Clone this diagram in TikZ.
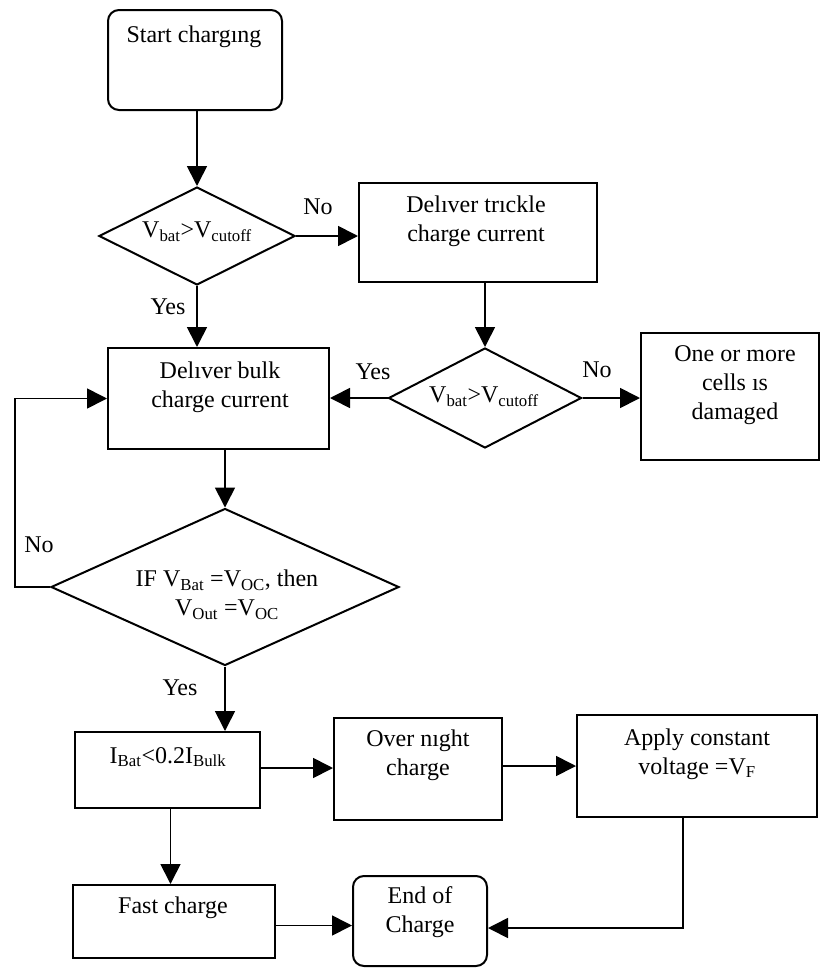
\documentclass[tikz,border=0pt]{standalone}
\usepackage{fontspec}
\setmainfont{Liberation Serif}
\usetikzlibrary{arrows.meta,shapes.geometric,calc}
\begin{document}
\begin{tikzpicture}[x=1pt,y=-1pt,
  every node/.style={font=\fontsize{24}{29}\selectfont},
  box/.style={draw, line width=2pt, rectangle, inner sep=0pt},
  rbox/.style={box, rounded corners=11pt},
  dia/.style={draw, line width=2pt, diamond, inner sep=0pt},
  txt/.style={align=center, inner sep=0pt},
  lbl/.style={inner sep=0pt},
  arr/.style={line width=1.7pt, -{Triangle[length=20pt,width=20pt]}}
]
\useasboundingbox (0,0) rectangle (821,969);

% boxes
\node[rbox, minimum width=174pt, minimum height=100pt] (start) at (195,60) {};
\node[box, minimum width=238pt, minimum height=99pt] (trickle) at (478,232.5) {};
\node[box, minimum width=221pt, minimum height=101pt] (bulk) at (218.5,398.5) {};
\node[box, minimum width=178pt, minimum height=127pt] (one) at (730,396.5) {};
\node[box, minimum width=185pt, minimum height=76pt] (ibat) at (167.5,770) {};
\node[box, minimum width=202pt, minimum height=73pt] (fast) at (174,921.5) {};
\node[box, minimum width=168pt, minimum height=102pt] (over) at (418,769) {};
\node[box, minimum width=240pt, minimum height=102pt] (apply) at (697,766) {};
\node[rbox, minimum width=134pt, minimum height=90pt] (end) at (420,921) {};

% diamonds
\node[dia, minimum width=196pt, minimum height=98pt] (d1) at (197,236) {};
\node[dia, minimum width=193pt, minimum height=100pt] (d2) at (485,398) {};
\node[dia, minimum width=348pt, minimum height=157pt] (d3) at (225,587) {};

% texts
\node[txt] (startt) at (194,37) {Start chargıng};
\node[txt] (tricklet) at (476,221) {Delıver trıckle\\charge current};
\node[txt] (bulkt) at (220,387) {Delıver bulk\\charge current};
\node[txt] (onet) at (735,385) {One or more\\cells ıs\\damaged};
\node[txt] (d1t) at (197,232) {V\textsubscript{bat}>V\textsubscript{cutoff}};
\node[txt] (d2t) at (484,397) {V\textsubscript{bat}>V\textsubscript{cutoff}};
\node[txt] (d3t) at (227,595) {IF V\textsubscript{Bat} =V\textsubscript{OC}, then\\V\textsubscript{Out} =V\textsubscript{OC}};
\node[txt] (ibatt) at (168,757) {I\textsubscript{Bat}<0.2I\textsubscript{Bulk}};
\node[txt] (fastt) at (173,908) {Fast charge};
\node[txt] (overt) at (418,755) {Over nıght\\charge};
\node[txt] (applyt) at (697,754) {Apply constant\\voltage =V\textsubscript{F}};
\node[txt] (endt) at (420,912) {End of\\Charge};

% labels
\node[lbl] (no1) at (318,207) {No};
\node[lbl] (yes1) at (168,307) {Yes};
\node[lbl] (yes2) at (373,372) {Yes};
\node[lbl] (no2) at (597,370) {No};
\node[lbl] (no3) at (39,545) {No};
\node[lbl] (yes3) at (180,688) {Yes};

% connectors
\draw[arr] (start.south -| d1.north) -- (d1.north);
\draw[arr] (d1.east) -- (d1.east -| trickle.west);
\draw[arr] (d1.south) -- (d1.south |- bulk.north);
\draw[arr] (d2.north |- trickle.south) -- (d2.north);
\draw[arr] (d2.west) -- (d2.west -| bulk.east);
\draw[arr] (d2.east) -- (d2.east -| one.west);
\draw[arr] (d3.north |- bulk.south) -- (d3.north);
\coordinate (lp) at (15,587);
\draw[arr] (d3.west) -- (lp) |- (bulk.west);
\draw[arr] (d3.south) -- (d3.south |- ibat.north);
\draw[arr] ([yshift=2pt]ibat.east) -- ([yshift=2pt]ibat.east -| over.west);
\draw[arr] ([xshift=3pt]ibat.south) -- ([xshift=3pt]ibat.south |- fast.north);
\draw[arr] ([yshift=-4pt]fast.east) -- ([yshift=-4pt]fast.east -| end.west);
\draw[arr] ([yshift=3pt]over.east) -- ([yshift=3pt]over.east -| apply.west);
\draw[arr] ([xshift=-14pt]apply.south) |- ([yshift=-7pt]end.east);
\end{tikzpicture}
\end{document}
